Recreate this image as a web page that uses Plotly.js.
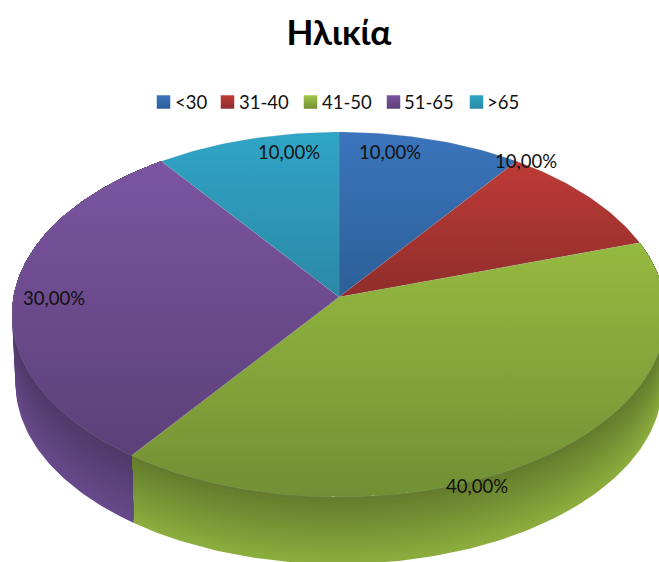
<!DOCTYPE html>
<html><head><meta charset="utf-8">
<script src="https://cdn.plot.ly/plotly-3.0.1.min.js"></script>
<style>html,body{margin:0;padding:0;background:#fff;overflow:hidden}#chart{width:659px;height:562px}</style>
</head><body><div id="chart"></div>
<script>
const chartTitle = 'Ηλικία';
const categories = ['<30', '31-40', '41-50', '51-65', '>65'];
const shares = [10, 10, 40, 30, 10];

const topColors = [['#3C75BD', '#2C5F98'], ['#BE3B37', '#8F2D2B'], ['#95BA40', '#728F34'], ['#7C55A2', '#5C4078'], ['#30A5C6', '#2B88A6']];
const wallColors = [null, null, ['#627A2C', '#8CAD3E'], ['#4F3969', '#674A8A'], null];
const legendColors = [['#3C75BD', '#2C5F98'], ['#BE3B37', '#8F2D2B'], ['#A2C64A', '#728F34'], ['#7C55A2', '#5C4078'], ['#30A5C6', '#2B88A6']];

const legendMarkX = [163.5, 227.5, 310.5, 393.5, 476.5];
const legendTextX = [175, 239, 322, 404, 487];
const labelPos = [[289, 154], [390, 154], [526, 163], [54, 300], [477, 488]];
const labelOrder = [4, 0, 1, 3, 2];

// projected disc geometry (perspective view of a circle)
const CX = 339, P = 0.096;
const TOP = {cy: 297, a: 325.5, b: 180.8};
const BOTTOM = {cy: 366, a: 322, b: 179};
const BANDS = 24;

function proj(deg, g) {
  const t = deg * Math.PI / 180, X = Math.sin(t), Y = Math.cos(t), w = 1 + P * Y;
  return [CX + g.a * X / w, g.cy - g.b * Y / w];
}
function arc(d0, d1, g) {
  const pts = [], n = Math.max(2, Math.ceil(Math.abs(d1 - d0)));
  for (let i = 0; i <= n; i++) pts.push(proj(d0 + (d1 - d0) * i / n, g));
  return pts;
}
function mixColor(c1, c2, f) {
  const h = (c, i) => parseInt(c.substr(1 + i * 2, 2), 16);
  return 'rgb(' + [0, 1, 2].map(i => Math.round(h(c1, i) + (h(c2, i) - h(c1, i)) * f)).join(',') + ')';
}

const total = shares.reduce((a, b) => a + b, 0);
let acc = 0;
const ranges = shares.map(v => { const r = [acc / total * 360, (acc + v) / total * 360]; acc += v; return r; });

const traces = [];
// side walls: nested polygons from the lightest (full depth) up to the rim, so no seams show
ranges.forEach((r, i) => {
  if (!wallColors[i]) return;
  const rim = arc(r[0], r[1], TOP), bot = arc(r[0], r[1], BOTTOM);
  for (let b = BANDS; b >= 1; b--) {
    const f = b / BANDS;
    const lower = rim.map((p, k) => [p[0] + (bot[k][0] - p[0]) * f, p[1] + (bot[k][1] - p[1]) * f]);
    const poly = rim.concat(lower.slice().reverse());
    poly.push(poly[0]);
    traces.push({
      type: 'scatter', mode: 'lines', x: poly.map(p => p[0]), y: poly.map(p => p[1]),
      fill: 'toself', fillcolor: mixColor(wallColors[i][0], wallColors[i][1], f),
      line: {width: 0}, showlegend: false, hoverinfo: 'skip'
    });
  }
});
// top face
ranges.forEach((r, i) => {
  const poly = [[CX, TOP.cy]].concat(arc(r[0], r[1], TOP));
  poly.push(poly[0]);
  const ys = poly.map(p => p[1]);
  traces.push({
    type: 'scatter', mode: 'lines', name: categories[i],
    x: poly.map(p => p[0]), y: ys, fill: 'toself',
    fillgradient: {type: 'vertical', start: Math.min(...ys), stop: Math.max(...ys),
      colorscale: [[0, topColors[i][0]], [1, topColors[i][1]]]},
    line: {width: 0.5, color: 'rgba(170,170,170,0.35)'},
    showlegend: false, hoverinfo: 'name'
  });
});
// value labels
traces.push({
  type: 'scatter', mode: 'text',
  x: labelPos.map(p => p[0]), y: labelPos.map(p => p[1]),
  text: labelOrder.map(i => shares[i].toFixed(2).replace('.', ',') + '%'),
  textposition: 'middle center',
  textfont: {family: 'Lato, "Noto Sans", sans-serif', size: 18.5, color: '#111'},
  showlegend: false, hoverinfo: 'skip', cliponaxis: false
});
// legend row
traces.push({
  type: 'scatter', mode: 'text', x: legendTextX, y: categories.map(() => 104), text: categories,
  textposition: 'middle right',
  textfont: {family: 'Lato, "Noto Sans", sans-serif', size: 18.5, color: '#111'},
  showlegend: false, hoverinfo: 'skip', cliponaxis: false
});
categories.forEach((c, i) => {
  traces.push({
    type: 'scatter', mode: 'markers', name: c, x: [legendMarkX[i]], y: [102],
    marker: {symbol: 'square', size: 13.5, color: legendColors[i][0],
      gradient: {type: 'vertical', color: legendColors[i][1]}, line: {width: 0}},
    showlegend: false, hoverinfo: 'skip', cliponaxis: false
  });
});

const layout = {
  width: 659, height: 562, showlegend: false,
  margin: {l: 0, r: 0, t: 0, b: 0, pad: 0},
  paper_bgcolor: '#fff', plot_bgcolor: '#fff',
  title: {text: '<b>' + chartTitle + '</b>', x: 339 / 659, xanchor: 'center', y: 1 - 33 / 562, yanchor: 'middle',
    font: {family: 'Lato, "Noto Sans", sans-serif', size: 35, color: '#000'}},
  xaxis: {range: [0, 659], visible: false, fixedrange: true},
  yaxis: {range: [562, 0], visible: false, fixedrange: true}
};
Plotly.newPlot('chart', traces, layout, {displayModeBar: false, staticPlot: true});
</script></body></html>
